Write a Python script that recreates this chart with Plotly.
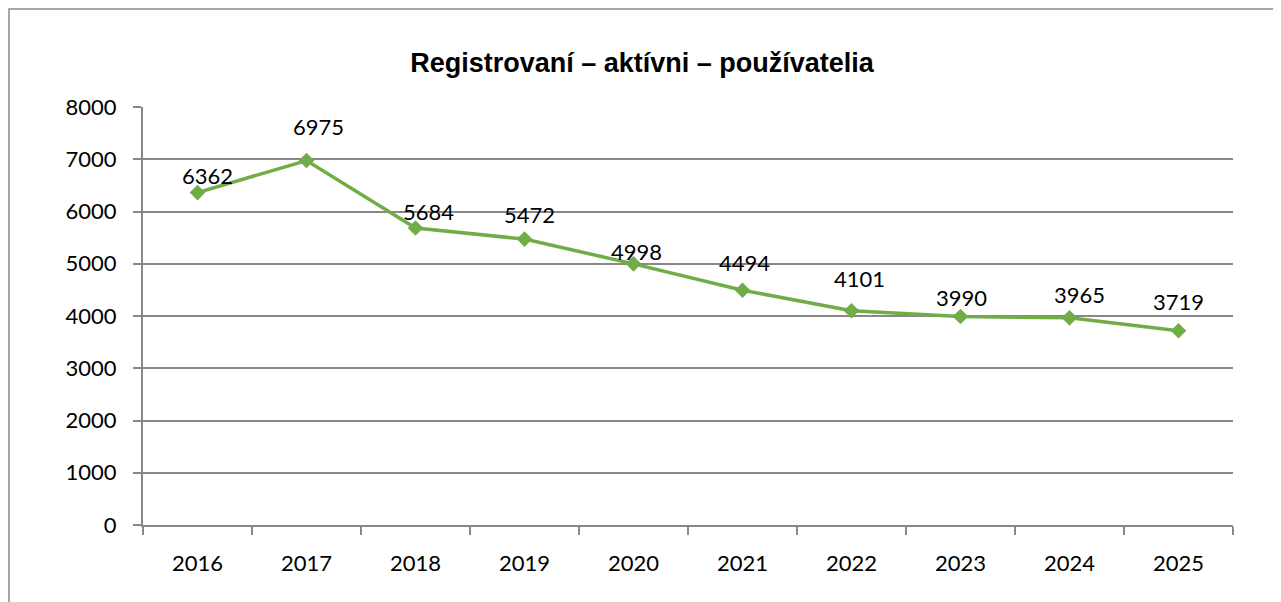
import plotly.graph_objects as go

years = ["2016", "2017", "2018", "2019", "2020", "2021", "2022", "2023", "2024", "2025"]
users = [6362, 6975, 5684, 5472, 4998, 4494, 4101, 3990, 3965, 3719]
y_ticks = [0, 1000, 2000, 3000, 4000, 5000, 6000, 7000, 8000]
title_text = "Registrovaní – aktívni – používatelia"

# label offsets in pixels (style only)
label_dx = [10, 12, 13, 5, 3, 2, 8, 1, 10, 0]
label_dy = [17, 34, 17, 25, 12, 28, 32, 19, 23, 29]

W, H = 1281, 602
OFF = 8  # page offset of the figure
L, R, T, B = 143 - OFF, 48 + OFF, 107 - OFF, 77 + OFF
green = "rgb(112,173,71)"
grid = "#888888"
num_font = dict(family="Lato, Carlito, Open Sans, sans-serif", size=22, color="#000000")

fig = go.Figure()
fig.add_trace(go.Scatter(
    x=years, y=users, mode="lines+markers",
    line=dict(color=green, width=3.5),
    marker=dict(symbol="diamond", size=12, color=green),
    hoverinfo="x+y", showlegend=False,
))

for i, (y, dx, dy) in enumerate(zip(users, label_dx, label_dy)):
    fig.add_annotation(x=i, y=y, text=str(y), showarrow=False,
                       xshift=dx, yshift=dy, font=num_font)

pw = W - L - R
ph = H - T - B
fig.add_shape(type="rect", xref="paper", yref="paper",
              x0=(1 - L) / pw, x1=(1272 - L) / pw,
              y0=(H - 610 - B) / ph, y1=(H - 1 - B) / ph,
              line=dict(color="#8a8a8a", width=1.5), layer="below")

fig.update_layout(
    width=W, height=H,
    margin=dict(l=L, r=R, t=T, b=B, autoexpand=False),
    paper_bgcolor="white", plot_bgcolor="white",
    title=dict(text=title_text, x=(642 - OFF) / W, xanchor="center",
               y=1 - (63 - OFF) / H, yanchor="middle",
               font=dict(family="Liberation Sans, Arial, sans-serif",
                         size=27, color="#000000", weight="bold")),
    xaxis=dict(type="category", categoryorder="array", categoryarray=years,
               range=[-0.5, len(years) - 0.5], autorange=False,
               showgrid=False, showline=True, linecolor=grid, linewidth=2,
               ticks="outside", tickson="boundaries", ticklen=8, tickcolor=grid, tickwidth=2,
               tickfont=num_font, ticklabelstandoff=18, tickangle=0, automargin=False,
               zeroline=False),
    yaxis=dict(range=[0, 8000], autorange=False, tickvals=y_ticks, showgrid=True,
               gridcolor=grid, gridwidth=2,
               showline=True, linecolor=grid, linewidth=2, ticks="outside", ticklen=8,
               tickcolor=grid, tickwidth=2, tickfont=num_font, ticklabelstandoff=12,
               automargin=False, zeroline=False),
)

fig.write_html("out.html")
